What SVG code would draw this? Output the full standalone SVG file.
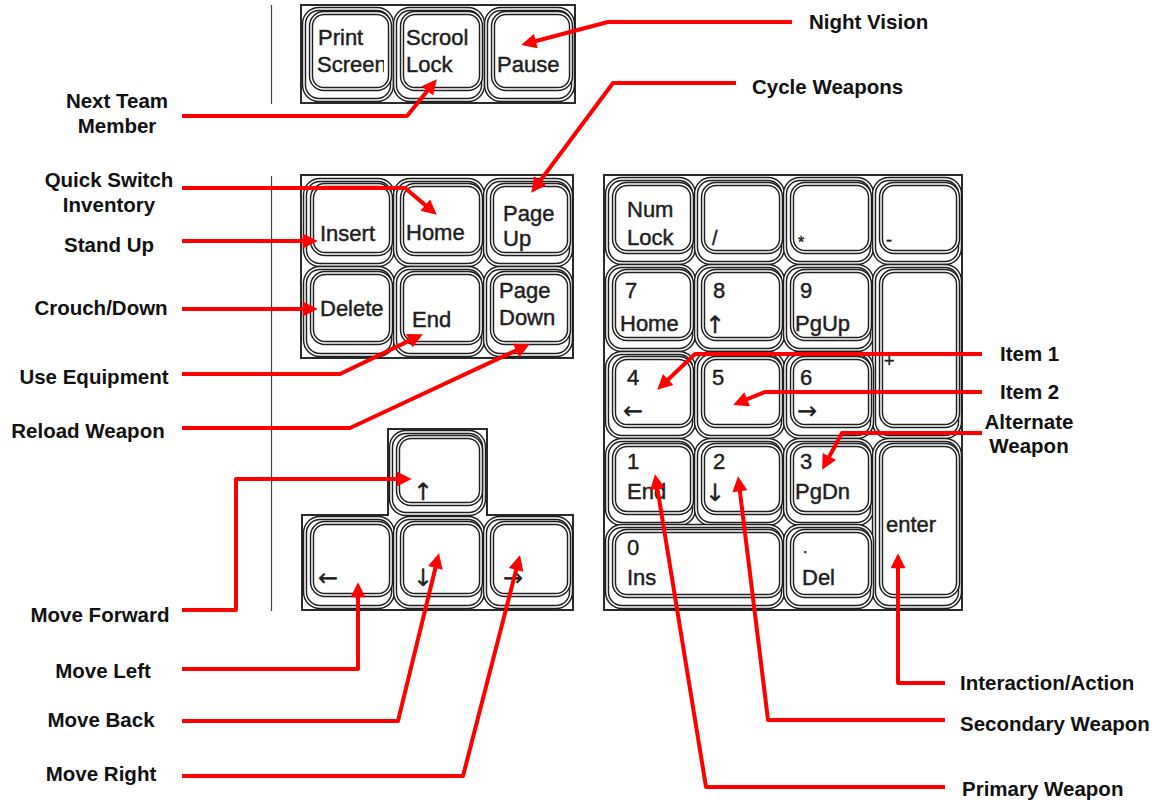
<svg xmlns="http://www.w3.org/2000/svg" width="1162" height="803" viewBox="0 0 1162 803">
<defs>
<style>
.bg{fill:#fff}
.frame{fill:#fff;stroke:#2a2a2a;stroke-width:2}
.ko{fill:#fff;stroke:#1e1e1e;stroke-width:4.4}
.kw{fill:none;stroke:#fff;stroke-width:1.5}
.kt{font-family:"Liberation Sans",Arial,Helvetica,sans-serif;font-size:22px;fill:#1e1e1e;stroke:#1e1e1e;stroke-width:0.45}
.ka{font-family:"DejaVu Sans",sans-serif;font-size:24px;fill:#1e1e1e;stroke:#1e1e1e;stroke-width:0.3}
.lbl{font-family:"Liberation Sans",Arial,Helvetica,sans-serif;font-size:20.5px;font-weight:bold;fill:#111}
.mid{text-anchor:middle}
.sep{stroke:#444;stroke-width:1.2}
.con{fill:none;stroke:#ff0000;stroke-width:4;stroke-linejoin:round;marker-end:url(#ah)}
</style>
<marker id="ah" viewBox="0 0 10 10" refX="7" refY="5" markerWidth="17" markerHeight="15" markerUnits="userSpaceOnUse" orient="auto">
<path d="M0,0 L10,5 L0,10 z" fill="#ff0000"/>
</marker>
<clipPath id="clipPS"><rect x="305" y="8" width="79" height="90"/></clipPath>
</defs>
<rect class="bg" x="0" y="0" width="1162" height="803"/>

<g id="separators">
<line class="sep" x1="271.5" y1="5" x2="271.5" y2="104"/>
<line class="sep" x1="271.5" y1="176" x2="271.5" y2="611"/>
</g>

<!-- Top cluster -->
<g id="top-cluster">
<rect class="frame" x="301" y="5" width="274" height="98"/>
<g id="key-printscreen">
<rect class="ko" x="304" y="9" width="88" height="91" rx="15"/><rect class="kw" x="304" y="9" width="88" height="91" rx="15"/>
<rect class="ko" x="311" y="13" width="79" height="76" rx="13"/><rect class="kw" x="311" y="13" width="79" height="76" rx="13"/>
<text class="kt" x="318" y="45">Print</text>
<text class="kt" x="317" y="72" clip-path="url(#clipPS)">Screen</text>
</g>
<g id="key-scrolllock">
<rect class="ko" x="395" y="9" width="88" height="91" rx="15"/><rect class="kw" x="395" y="9" width="88" height="91" rx="15"/>
<rect class="ko" x="402" y="13" width="79" height="76" rx="13"/><rect class="kw" x="402" y="13" width="79" height="76" rx="13"/>
<text class="kt" x="406" y="45">Scrool</text>
<text class="kt" x="406" y="72">Lock</text>
</g>
<g id="key-pause">
<rect class="ko" x="486" y="9" width="87" height="91" rx="15"/><rect class="kw" x="486" y="9" width="87" height="91" rx="15"/>
<rect class="ko" x="493" y="13" width="78" height="76" rx="13"/><rect class="kw" x="493" y="13" width="78" height="76" rx="13"/>
<text class="kt" x="497" y="72">Pause</text>
</g>
</g>

<!-- Navigation cluster -->
<g id="nav-cluster">
<rect class="frame" x="301" y="175" width="272" height="183"/>
<g id="key-insert">
<rect class="ko" x="305" y="180" width="88" height="85" rx="15"/><rect class="kw" x="305" y="180" width="88" height="85" rx="15"/>
<rect class="ko" x="312" y="185" width="79" height="69" rx="13"/><rect class="kw" x="312" y="185" width="79" height="69" rx="13"/>
<text class="kt" x="320" y="241">Insert</text>
</g>
<g id="key-home">
<rect class="ko" x="395" y="180" width="88" height="85" rx="15"/><rect class="kw" x="395" y="180" width="88" height="85" rx="15"/>
<rect class="ko" x="402" y="185" width="79" height="69" rx="13"/><rect class="kw" x="402" y="185" width="79" height="69" rx="13"/>
<text class="kt" x="406" y="240">Home</text>
</g>
<g id="key-pageup">
<rect class="ko" x="485" y="180" width="86" height="85" rx="15"/><rect class="kw" x="485" y="180" width="86" height="85" rx="15"/>
<rect class="ko" x="492" y="185" width="77" height="69" rx="13"/><rect class="kw" x="492" y="185" width="77" height="69" rx="13"/>
<text class="kt" x="503" y="221">Page</text>
<text class="kt" x="503" y="246">Up</text>
</g>
<g id="key-delete">
<rect class="ko" x="305" y="268" width="88" height="87" rx="15"/><rect class="kw" x="305" y="268" width="88" height="87" rx="15"/>
<rect class="ko" x="312" y="273" width="79" height="70" rx="13"/><rect class="kw" x="312" y="273" width="79" height="70" rx="13"/>
<text class="kt" x="320" y="316">Delete</text>
</g>
<g id="key-end">
<rect class="ko" x="395" y="268" width="88" height="87" rx="15"/><rect class="kw" x="395" y="268" width="88" height="87" rx="15"/>
<rect class="ko" x="402" y="273" width="79" height="70" rx="13"/><rect class="kw" x="402" y="273" width="79" height="70" rx="13"/>
<text class="kt" x="412" y="327">End</text>
</g>
<g id="key-pagedown">
<rect class="ko" x="485" y="268" width="86" height="87" rx="15"/><rect class="kw" x="485" y="268" width="86" height="87" rx="15"/>
<rect class="ko" x="492" y="273" width="77" height="70" rx="13"/><rect class="kw" x="492" y="273" width="77" height="70" rx="13"/>
<text class="kt" x="499" y="298">Page</text>
<text class="kt" x="499" y="325">Down</text>
</g>
</g>

<!-- Arrow cluster -->
<g id="arrow-cluster">
<path class="frame" d="M388,429 H487 V515 H573 V610 H302 V515 H388 Z"/>
<g id="key-up">
<rect class="ko" x="391" y="432" width="93" height="82" rx="15"/><rect class="kw" x="391" y="432" width="93" height="82" rx="15"/>
<rect class="ko" x="398" y="437" width="83" height="67" rx="13"/><rect class="kw" x="398" y="437" width="83" height="67" rx="13"/>
<text class="ka" x="413" y="500">↑</text>
</g>
<g id="key-left">
<rect class="ko" x="305" y="518" width="88" height="89" rx="15"/><rect class="kw" x="305" y="518" width="88" height="89" rx="15"/>
<rect class="ko" x="312" y="523" width="79" height="72" rx="13"/><rect class="kw" x="312" y="523" width="79" height="72" rx="13"/>
<text class="ka" x="318" y="586">←</text>
</g>
<g id="key-down">
<rect class="ko" x="395" y="518" width="88" height="89" rx="15"/><rect class="kw" x="395" y="518" width="88" height="89" rx="15"/>
<rect class="ko" x="402" y="523" width="79" height="72" rx="13"/><rect class="kw" x="402" y="523" width="79" height="72" rx="13"/>
<text class="ka" x="413" y="586">↓</text>
</g>
<g id="key-right">
<rect class="ko" x="485" y="518" width="86" height="89" rx="15"/><rect class="kw" x="485" y="518" width="86" height="89" rx="15"/>
<rect class="ko" x="492" y="523" width="77" height="72" rx="13"/><rect class="kw" x="492" y="523" width="77" height="72" rx="13"/>
<text class="ka" x="503" y="586">→</text>
</g>
</g>

<!-- Numeric keypad -->
<g id="numpad">
<rect class="frame" x="604" y="175" width="358" height="435"/>
<g id="key-numlock">
<rect class="ko" x="607" y="179" width="87" height="84" rx="15"/><rect class="kw" x="607" y="179" width="87" height="84" rx="15"/>
<rect class="ko" x="614" y="184" width="78" height="68" rx="13"/><rect class="kw" x="614" y="184" width="78" height="68" rx="13"/>
<text class="kt" x="627" y="217">Num</text>
<text class="kt" x="627" y="245">Lock</text>
</g>
<g id="key-slash">
<rect class="ko" x="696" y="179" width="87" height="84" rx="15"/><rect class="kw" x="696" y="179" width="87" height="84" rx="15"/>
<rect class="ko" x="703" y="184" width="78" height="68" rx="13"/><rect class="kw" x="703" y="184" width="78" height="68" rx="13"/>
<text class="kt" x="712" y="245" style="font-size:20px">/</text>
</g>
<g id="key-multiply">
<rect class="ko" x="785" y="179" width="87" height="84" rx="15"/><rect class="kw" x="785" y="179" width="87" height="84" rx="15"/>
<rect class="ko" x="792" y="184" width="78" height="68" rx="13"/><rect class="kw" x="792" y="184" width="78" height="68" rx="13"/>
<text class="kt" x="798" y="248" style="font-size:16px">*</text>
</g>
<g id="key-minus">
<rect class="ko" x="874" y="179" width="86" height="84" rx="15"/><rect class="kw" x="874" y="179" width="86" height="84" rx="15"/>
<rect class="ko" x="881" y="184" width="77" height="68" rx="13"/><rect class="kw" x="881" y="184" width="77" height="68" rx="13"/>
<text class="kt" x="886" y="246" style="font-size:18px">-</text>
</g>
<g id="key-7">
<rect class="ko" x="607" y="266" width="87" height="84" rx="15"/><rect class="kw" x="607" y="266" width="87" height="84" rx="15"/>
<rect class="ko" x="614" y="271" width="78" height="68" rx="13"/><rect class="kw" x="614" y="271" width="78" height="68" rx="13"/>
<text class="kt" x="625" y="298">7</text>
<text class="kt" x="620" y="331">Home</text>
</g>
<g id="key-8">
<rect class="ko" x="696" y="266" width="87" height="84" rx="15"/><rect class="kw" x="696" y="266" width="87" height="84" rx="15"/>
<rect class="ko" x="703" y="271" width="78" height="68" rx="13"/><rect class="kw" x="703" y="271" width="78" height="68" rx="13"/>
<text class="kt" x="713" y="298">8</text>
<text class="ka" x="705" y="333">↑</text>
</g>
<g id="key-9">
<rect class="ko" x="785" y="266" width="87" height="84" rx="15"/><rect class="kw" x="785" y="266" width="87" height="84" rx="15"/>
<rect class="ko" x="792" y="271" width="78" height="68" rx="13"/><rect class="kw" x="792" y="271" width="78" height="68" rx="13"/>
<text class="kt" x="800" y="298">9</text>
<text class="kt" x="795" y="331">PgUp</text>
</g>
<g id="key-plus">
<rect class="ko" x="874" y="266" width="86" height="171" rx="15"/><rect class="kw" x="874" y="266" width="86" height="171" rx="15"/>
<rect class="ko" x="881" y="271" width="77" height="155" rx="13"/><rect class="kw" x="881" y="271" width="77" height="155" rx="13"/>
<text class="kt" x="884" y="367" style="font-size:18px">+</text>
</g>
<g id="key-4">
<rect class="ko" x="607" y="353" width="87" height="84" rx="15"/><rect class="kw" x="607" y="353" width="87" height="84" rx="15"/>
<rect class="ko" x="614" y="358" width="78" height="68" rx="13"/><rect class="kw" x="614" y="358" width="78" height="68" rx="13"/>
<text class="kt" x="627" y="385">4</text>
<text class="ka" x="623" y="419">←</text>
</g>
<g id="key-5">
<rect class="ko" x="696" y="353" width="87" height="84" rx="15"/><rect class="kw" x="696" y="353" width="87" height="84" rx="15"/>
<rect class="ko" x="703" y="358" width="78" height="68" rx="13"/><rect class="kw" x="703" y="358" width="78" height="68" rx="13"/>
<text class="kt" x="712" y="385">5</text>
</g>
<g id="key-6">
<rect class="ko" x="785" y="353" width="87" height="84" rx="15"/><rect class="kw" x="785" y="353" width="87" height="84" rx="15"/>
<rect class="ko" x="792" y="358" width="78" height="68" rx="13"/><rect class="kw" x="792" y="358" width="78" height="68" rx="13"/>
<text class="kt" x="800" y="385">6</text>
<text class="ka" x="797" y="419">→</text>
</g>
<g id="key-1">
<rect class="ko" x="607" y="440" width="87" height="84" rx="15"/><rect class="kw" x="607" y="440" width="87" height="84" rx="15"/>
<rect class="ko" x="614" y="445" width="78" height="68" rx="13"/><rect class="kw" x="614" y="445" width="78" height="68" rx="13"/>
<text class="kt" x="627" y="469">1</text>
<text class="kt" x="627" y="499">End</text>
</g>
<g id="key-2">
<rect class="ko" x="696" y="440" width="87" height="84" rx="15"/><rect class="kw" x="696" y="440" width="87" height="84" rx="15"/>
<rect class="ko" x="703" y="445" width="78" height="68" rx="13"/><rect class="kw" x="703" y="445" width="78" height="68" rx="13"/>
<text class="kt" x="713" y="469">2</text>
<text class="ka" x="705" y="501">↓</text>
</g>
<g id="key-3">
<rect class="ko" x="785" y="440" width="87" height="84" rx="15"/><rect class="kw" x="785" y="440" width="87" height="84" rx="15"/>
<rect class="ko" x="792" y="445" width="78" height="68" rx="13"/><rect class="kw" x="792" y="445" width="78" height="68" rx="13"/>
<text class="kt" x="800" y="469">3</text>
<text class="kt" x="795" y="499">PgDn</text>
</g>
<g id="key-enter">
<rect class="ko" x="874" y="440" width="86" height="167" rx="15"/><rect class="kw" x="874" y="440" width="86" height="167" rx="15"/>
<rect class="ko" x="881" y="445" width="77" height="151" rx="13"/><rect class="kw" x="881" y="445" width="77" height="151" rx="13"/>
<text class="kt" x="886" y="532">enter</text>
</g>
<g id="key-0">
<rect class="ko" x="607" y="526" width="176" height="81" rx="15"/><rect class="kw" x="607" y="526" width="176" height="81" rx="15"/>
<rect class="ko" x="614" y="531" width="167" height="65" rx="13"/><rect class="kw" x="614" y="531" width="167" height="65" rx="13"/>
<text class="kt" x="627" y="555">0</text>
<text class="kt" x="627" y="585">Ins</text>
</g>
<g id="key-del">
<rect class="ko" x="785" y="526" width="87" height="81" rx="15"/><rect class="kw" x="785" y="526" width="87" height="81" rx="15"/>
<rect class="ko" x="792" y="531" width="78" height="65" rx="13"/><rect class="kw" x="792" y="531" width="78" height="65" rx="13"/>
<text class="kt" x="803" y="553" style="font-size:16px">.</text>
<text class="kt" x="802" y="585">Del</text>
</g>
</g>

<!-- Labels -->
<g id="labels">
<g id="lbl-next-team"><text class="lbl mid" x="117" y="108">Next Team</text><text class="lbl mid" x="117" y="133">Member</text></g>
<g id="lbl-quick-switch"><text class="lbl mid" x="109" y="187">Quick Switch</text><text class="lbl mid" x="109" y="212">Inventory</text></g>
<g id="lbl-stand-up"><text class="lbl mid" x="109" y="252">Stand Up</text></g>
<g id="lbl-crouch"><text class="lbl mid" x="101" y="315">Crouch/Down</text></g>
<g id="lbl-use-equipment"><text class="lbl mid" x="94" y="384">Use Equipment</text></g>
<g id="lbl-reload"><text class="lbl mid" x="88" y="438">Reload Weapon</text></g>
<g id="lbl-move-forward"><text class="lbl mid" x="100" y="622">Move Forward</text></g>
<g id="lbl-move-left"><text class="lbl mid" x="103" y="678">Move Left</text></g>
<g id="lbl-move-back"><text class="lbl mid" x="101" y="727">Move Back</text></g>
<g id="lbl-move-right"><text class="lbl mid" x="101" y="781">Move Right</text></g>
<g id="lbl-night-vision"><text class="lbl" x="809" y="29">Night Vision</text></g>
<g id="lbl-cycle-weapons"><text class="lbl" x="752" y="94">Cycle Weapons</text></g>
<g id="lbl-item1"><text class="lbl" x="1000" y="361">Item 1</text></g>
<g id="lbl-item2"><text class="lbl" x="1000" y="399">Item 2</text></g>
<g id="lbl-alternate"><text class="lbl mid" x="1029" y="429">Alternate</text><text class="lbl mid" x="1029" y="453">Weapon</text></g>
<g id="lbl-interaction"><text class="lbl" x="960" y="690">Interaction/Action</text></g>
<g id="lbl-secondary"><text class="lbl" x="960" y="731">Secondary Weapon</text></g>
<g id="lbl-primary"><text class="lbl" x="962" y="796">Primary Weapon</text></g>
</g>

<!-- Connectors -->
<g id="connectors">
<polyline class="con" points="792,22 608,22 525.6,43.8"/>
<polyline class="con" points="736,83 613,83 533.9,189.2"/>
<polyline class="con" points="182,116 407,116 434,82.7"/>
<polyline class="con" points="182,188 405,188 433.3,211.9"/>
<polyline class="con" points="182,241 313.2,241"/>
<polyline class="con" points="182,309 313.2,309"/>
<polyline class="con" points="182,374 340,374 418.7,336.1"/>
<polyline class="con" points="182,428 350,428 525.7,346"/>
<polyline class="con" points="182,610 236,610 236,479 407.2,479"/>
<polyline class="con" points="182,669 358,669 358,586.8"/>
<polyline class="con" points="182,721 398,721 437.9,557.7"/>
<polyline class="con" points="182,776 463,776 518.8,559.6"/>
<polyline class="con" points="982,354 695,354 660.5,386.7"/>
<polyline class="con" points="982,392 765,392 737.4,403.2"/>
<polyline class="con" points="982,433 842,433 824.3,465.8"/>
<polyline class="con" points="945,683 898,683 898,557.8"/>
<polyline class="con" points="945,720 768,720 738.6,480.8"/>
<polyline class="con" points="945,787 706,787 655.8,478.7"/>
</g>
</svg>
